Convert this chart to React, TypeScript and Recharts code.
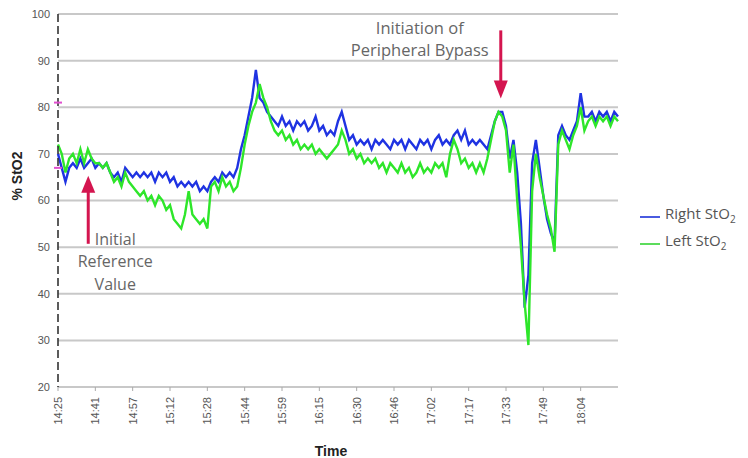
import {
  CartesianGrid,
  Label,
  Line,
  LineChart,
  ReferenceDot,
  XAxis,
  YAxis,
} from 'recharts'

// one sample every 1/10 of a tick interval
const tickLabels = [
  '14:25', '14:41', '14:57', '15:12', '15:28', '15:44', '15:59', '16:15',
  '16:30', '16:46', '17:02', '17:17', '17:33', '17:49', '18:04',
]

const rightSto2 = [
  70, 67, 64, 67, 68, 67, 69, 67, 68, 69, 67,
  68, 67, 68, 66, 65, 66, 64, 67, 66, 65,
  66, 65, 66, 65, 66, 64, 66, 65, 66, 64,
  65, 63, 64, 63, 64, 63, 64, 62, 63, 62,
  64, 65, 64, 66, 65, 66, 65, 67, 71, 74,
  78, 82, 88, 82, 81, 79, 78, 77, 76, 78,
  76, 77, 75, 77, 76, 77, 75, 76, 78, 75,
  76, 74, 75, 74, 77, 79, 76, 73, 74, 72,
  73, 72, 73, 71, 73, 72, 73, 72, 71, 73,
  72, 73, 71, 73, 72, 71, 73, 72, 73, 71,
  73, 74, 72, 73, 72, 74, 75, 73, 75, 72,
  73, 72, 73, 72, 71, 74, 77, 79, 79, 76,
  69, 73, 66, 55, 37, 44, 68, 73, 67, 61,
  56, 53, 51, 74, 76, 74, 73, 75, 77, 83,
  78, 78, 79, 77, 79, 78, 79, 77, 79, 78,
]

const leftSto2 = [
  72, 70, 66, 69, 70, 68, 71, 68, 71, 69, 68,
  68, 67, 68, 66, 64, 65, 63, 66, 64, 63,
  62, 61, 62, 60, 61, 59, 61, 60, 58, 59,
  56, 55, 54, 57, 62, 57, 56, 55, 56, 54,
  63, 64, 62, 65, 63, 64, 62, 63, 67, 72,
  76, 79, 81, 85, 82, 80, 77, 75, 74, 75,
  73, 74, 72, 73, 71, 72, 71, 72, 70, 71,
  70, 69, 70, 71, 72, 75, 73, 70, 71, 69,
  70, 68, 69, 68, 69, 67, 68, 66, 68, 67,
  66, 68, 66, 67, 65, 66, 68, 66, 67, 66,
  68, 67, 68, 65, 70, 73, 71, 68, 69, 67,
  68, 66, 68, 66, 69, 73, 77, 79, 78, 75,
  66, 72, 60, 50, 38, 29, 62, 70, 65, 61,
  57, 54, 49, 72, 75, 73, 71, 74, 76, 80,
  75, 77, 78, 76, 78, 77, 78, 76, 78, 77,
]

const yTicks = [20, 30, 40, 50, 60, 70, 80, 90, 100]
const referenceMarks = [81, 67]

const BLUE = '#1f33e2'
const GREEN = '#2ee62a'
const ARROW = '#d4154f'
const NOTE = '#666'

const data = rightSto2.map((r, i) => ({ t: i, right: r, left: leftSto2[i] }))
const xTicks = tickLabels.map((_, i) => i * 10)

const TimeTick = ({ x, y, payload }: any) => (
  <text
    x={x}
    y={y}
    dx={-4}
    dy="0.35em"
    transform={`rotate(-90 ${x} ${y})`}
    textAnchor="end"
    fontSize={11}
    fill="#555"
    fontFamily="'Liberation Sans', Arial, sans-serif"
  >
    {tickLabels[Math.round(payload.value / 10)]}
  </text>
)

const PinkMark = ({ cx, cy }: any) => (
  <line x1={cx - 4} x2={cx + 4} y1={cy} y2={cy} stroke="#e04fcf" strokeWidth={2} />
)

const noteFont = "'Open Sans', sans-serif"

// arrow pointing up, tip at the dot
const InitialNote = ({ cx, cy }: any) => (
  <g>
    <line x1={cx} x2={cx} y1={cy + 14} y2={cy + 68} stroke={ARROW} strokeWidth={3} />
    <polygon points={`${cx},${cy} ${cx - 7},${cy + 17} ${cx + 7},${cy + 17}`} fill={ARROW} />
    <g fontFamily={noteFont} fontSize={16} fill={NOTE} textAnchor="middle">
      <text x={cx + 27} y={cy + 69}>Initial</text>
      <text x={cx + 27} y={cy + 91}>Reference</text>
      <text x={cx + 27} y={cy + 114}>Value</text>
    </g>
  </g>
)

// arrow pointing down, tip at the dot
const BypassNote = ({ cx, cy }: any) => (
  <g>
    <line x1={cx} x2={cx} y1={cy - 68} y2={cy - 14} stroke={ARROW} strokeWidth={3} />
    <polygon points={`${cx},${cy} ${cx - 7},${cy - 18} ${cx + 7},${cy - 18}`} fill={ARROW} />
    <g fontFamily={noteFont} fontSize={16.5} fill={NOTE} textAnchor="middle">
      <text x={cx - 81} y={cy - 64}>Initiation of</text>
      <text x={cx - 81} y={cy - 42}>Peripheral Bypass</text>
    </g>
  </g>
)

const series = [
  { name: 'Right StO', color: '#4a5be0' },
  { name: 'Left StO', color: '#5cdc5c' },
]

const LegendBox = () => (
  <div
    style={{
      position: 'absolute',
      left: 640,
      top: 203,
      fontFamily: noteFont,
      fontSize: 15,
      color: '#555',
      lineHeight: '21px',
    }}
  >
    {series.map((s) => (
      <div key={s.name} style={{ display: 'flex', alignItems: 'center' }}>
        <span
          style={{ width: 20, height: 2, background: s.color, marginRight: 5, display: 'inline-block' }}
        />
        <span>
          {s.name}
          <sub style={{ fontSize: 10 }}>2</sub>
        </span>
      </div>
    ))}
  </div>
)

export default function App() {
  return (
    <div style={{ position: 'fixed', left: 0, top: 0, width: 748, height: 458, background: '#fff' }}>
      <LineChart
        width={748}
        height={458}
        data={data}
        margin={{ top: 14, right: 130, bottom: 0, left: 0 }}
      >
        <CartesianGrid vertical={false} stroke="#c8c8c8" strokeWidth={2} />
        <XAxis
          type="number"
          dataKey="t"
          domain={[0, 150]}
          ticks={xTicks}
          height={71}
          tick={<TimeTick />}
          tickSize={4}
          tickLine={{ stroke: '#aaa' }}
          axisLine={{ stroke: '#c8c8c8', strokeWidth: 2 }}
          interval={0}
        >
          <Label
            value="Time"
            position="insideBottom"
            offset={2}
            dx={-7}
            fontSize={14}
            fontWeight="bold"
            fill="#222"
            fontFamily="'Liberation Sans', Arial, sans-serif"
          />
        </XAxis>
        <YAxis
          domain={[20, 100]}
          ticks={yTicks}
          width={58}
          tickLine={false}
          axisLine={{ stroke: '#333', strokeDasharray: '8 4', strokeWidth: 1.6 }}
          tick={{ fontSize: 11, fill: '#555', fontFamily: "'Liberation Sans', Arial, sans-serif" }}
          interval={0}
        >
          <Label
            value="% StO2"
            angle={-90}
            position="insideLeft"
            offset={17}
            fontSize={14}
            fontWeight="bold"
            fill="#222"
            fontFamily="'Liberation Sans', Arial, sans-serif"
          />
        </YAxis>
        <Line
          type="linear"
          dataKey="right"
          stroke={BLUE}
          strokeWidth={2.4}
          dot={false}
          isAnimationActive={false}
        />
        <Line
          type="linear"
          dataKey="left"
          stroke={GREEN}
          strokeWidth={2.4}
          dot={false}
          isAnimationActive={false}
        />
        {referenceMarks.map((v) => (
          <ReferenceDot key={v} x={0} y={v} ifOverflow="visible" shape={<PinkMark />} />
        ))}
        <ReferenceDot x={8.1} y={65.3} ifOverflow="visible" shape={<InitialNote />} />
        <ReferenceDot x={118.6} y={81.9} ifOverflow="visible" shape={<BypassNote />} />
      </LineChart>
      <LegendBox />
    </div>
  )
}
